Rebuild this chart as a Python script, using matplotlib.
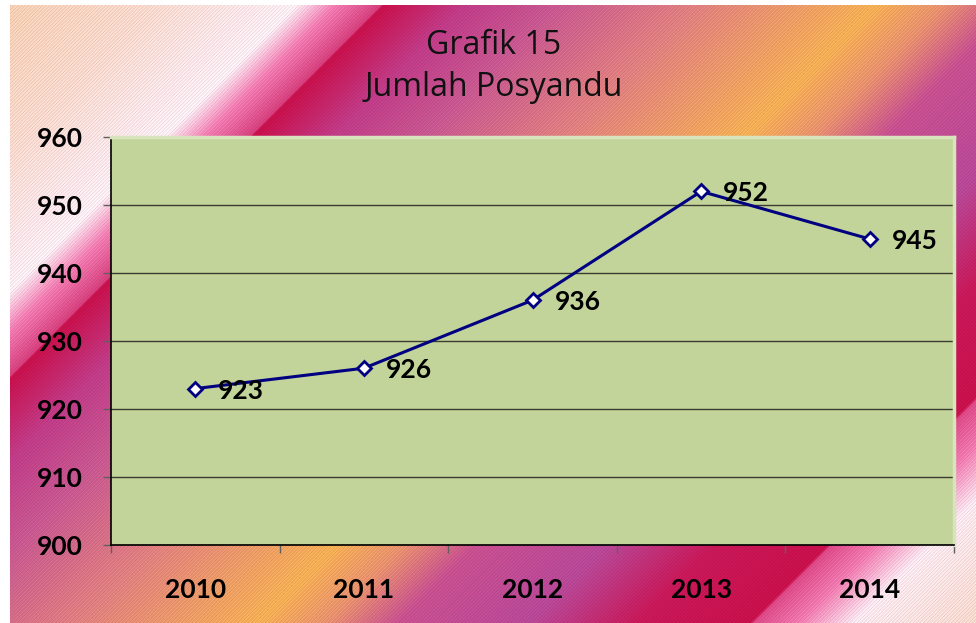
import numpy as np
import matplotlib.pyplot as plt
from matplotlib.colors import to_rgb

years = ['2010', '2011', '2012', '2013', '2014']
posyandu = [923, 926, 936, 952, 945]
y_ticks = [900, 910, 920, 930, 940, 950, 960]

# backdrop colour bands, keyed by position along x + y (pixels)
band_pos = [0, 150, 260, 300, 340, 385, 388, 470, 560, 700, 880, 950,
            1020, 1150, 1260, 1372, 1376, 1420, 1475, 1599]
band_col = ['#f6cdb0', '#f9d8cc', '#fce6ea', '#fdeef3', '#f27cb2', '#d6407e',
            '#c8104c', '#c03c88', '#c85890', '#e08080', '#f5b055', '#e89070',
            '#c85090', '#b84898', '#c81858', '#c8104c', '#de4a88', '#f07ab0',
            '#fce8f0', '#f8d8cc']

W, H = 976, 623
x0, y0 = 10, 5

# striped diagonal gradient
yy, xx = np.mgrid[y0:H, x0:W]
s = (xx + yy).astype(float)
rgb = np.array([to_rgb(c) for c in band_col])
img = np.stack([np.interp(s, band_pos, rgb[:, k]) for k in range(3)], axis=-1)
stripe = 1 + 0.05 * np.cos(2 * np.pi * s / 3.5) + 0.02 * np.cos(2 * np.pi * (xx - yy) / 2.0)
img = np.clip(img * stripe[..., None], 0, 1)

fig = plt.figure(figsize=(W / 100, H / 100), dpi=100, facecolor='white')
bg = fig.add_axes([x0 / W, 0, (W - x0) / W, (H - y0) / H])
bg.imshow(img, aspect='auto', interpolation='nearest')
bg.axis('off')

ax = fig.add_axes([111 / W, 1 - 545 / H, 843 / W, 408 / H])
ax.set_facecolor('#c3d49b')
ax.set_axisbelow(True)
ax.grid(axis='y', color='#3c3c30', linewidth=1)

x = np.arange(len(years))
ax.plot(x, posyandu, color='#000080', linewidth=2.2, marker='D', markersize=7,
        markerfacecolor='white', markeredgecolor='#000080', markeredgewidth=2, zorder=3)

for xi, v in zip(x, posyandu):
    ax.annotate(str(v), (xi, v), xytext=(16, -1.5), textcoords='offset points',
                ha='left', va='center', fontsize=19, fontweight='bold', family='Lato')

ax.set_xlim(-0.5, 4.5)
ax.set_ylim(900, 960)
ax.set_yticks(y_ticks)
ax.set_xticks(x)
ax.set_xticklabels(years)
ax.set_xticks(np.arange(-0.5, 5, 1), minor=True)

ax.tick_params(axis='x', which='major', length=0, pad=24)
ax.tick_params(axis='x', which='minor', length=6, color='#606060', width=1)
ax.tick_params(axis='y', length=6, color='#606060', width=1, pad=14)
for lab in ax.get_xticklabels() + ax.get_yticklabels():
    lab.set_fontfamily('Lato')
    lab.set_fontweight('bold')
    lab.set_fontsize(19)

for side in ['left', 'bottom']:
    ax.spines[side].set_color('black')
    ax.spines[side].set_linewidth(1.2)
for side in ['top', 'right']:
    ax.spines[side].set_color('#d8e4bc')
    ax.spines[side].set_linewidth(2.5)

fig.text(494 / W, 1 - 45 / H, 'Grafik 15', ha='center', va='center',
         fontsize=23, family='Open Sans', color='#111111')
fig.text(494 / W, 1 - 87 / H, 'Jumlah Posyandu', ha='center', va='center',
         fontsize=23, family='Open Sans', color='#111111')

fig.savefig('out.png', dpi=100, facecolor='white')
